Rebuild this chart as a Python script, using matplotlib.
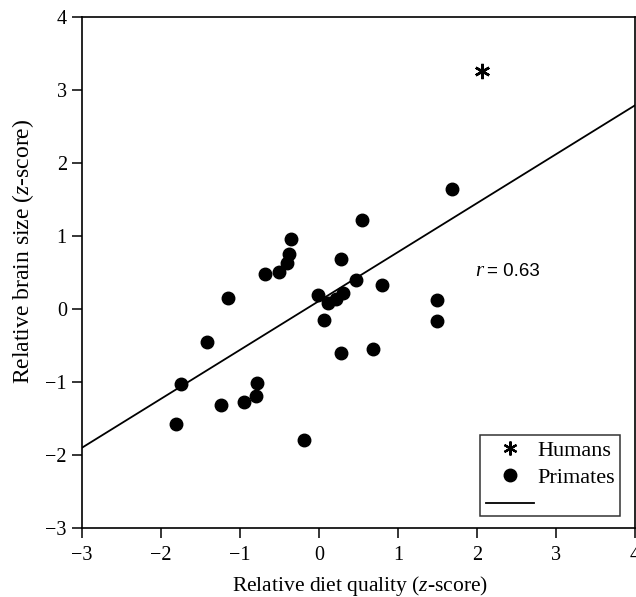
import matplotlib
matplotlib.use("Agg")
import matplotlib.pyplot as plt
from matplotlib.lines import Line2D

# Data
primate_x = [-1.81, -1.75, -1.42, -1.15, -1.24, -0.95, -0.80, -0.78, -0.68, -0.51,
             -0.41, -0.38, -0.35, -0.19, -0.01, 0.06, 0.11, 0.22, 0.28, 0.30,
             0.28, 0.47, 0.54, 0.68, 0.80, 1.49, 1.49, 1.68]
primate_y = [-1.58, -1.03, -0.45, 0.15, -1.31, -1.27, -1.19, -1.01, 0.48, 0.51,
             0.63, 0.75, 0.96, -1.79, 0.19, -0.15, 0.08, 0.14, 0.68, 0.22,
             -0.60, 0.40, 1.22, -0.55, 0.33, 0.12, -0.16, 1.65]
human_x = [2.06]
human_y = [3.26]
fit_x = [-3.0, 4.0]
fit_y = [-1.90, 2.79]
ticks = [-3, -2, -1, 0, 1, 2, 3, 4]
tick_labels = ["\u22123", "\u22122", "\u22121", "0", "1", "2", "3", "4"]

serif = ["Liberation Serif", "DejaVu Serif"]
plt.rcParams["font.family"] = serif
plt.rcParams["mathtext.fontset"] = "custom"
plt.rcParams["mathtext.rm"] = "Liberation Serif"
plt.rcParams["mathtext.it"] = "Liberation Serif:italic"

fig = plt.figure(figsize=(6.36, 5.97), dpi=100)
ax = fig.add_axes([0.129, 0.1156, 0.8695, 0.856])

ax.plot(fit_x, fit_y, color="black", lw=1.3, zorder=2)
ax.plot(primate_x, primate_y, linestyle="none", marker="o", ms=9,
        mfc="black", mec="black", zorder=3)
ax.plot(human_x, human_y, linestyle="none", marker=(6, 2, 0), ms=11,
        mec="black", mew=1.8, zorder=3)

ax.set_xlim(-3, 4)
ax.set_ylim(-3, 4)
ax.set_xticks(ticks)
ax.set_xticklabels(tick_labels, fontsize=14.5)
ax.set_yticks(ticks)
ax.set_yticklabels(tick_labels, fontsize=14.5)
ax.tick_params(direction="out", length=7, width=1.1)
ax.tick_params(axis="x", pad=6)
ax.tick_params(axis="y", pad=4)
for s in ax.spines.values():
    s.set_linewidth(1.2)

fig.text(0.566, 0.010, "Relative diet quality ($\\it{z}$-score)",
         ha="center", va="baseline", fontsize=15.5)
fig.text(0.036, 0.579, "Relative brain size ($\\it{z}$-score)",
         ha="center", va="center", rotation=90, fontsize=17)

ax.text(1.98, 0.51, "r", fontstyle="italic", fontsize=15, va="center", ha="left",
        family=serif)
ax.text(2.12, 0.51, "= 0.63", fontsize=13.5, va="center", ha="left",
        family=["Liberation Sans", "DejaVu Sans"])

handles = [
    Line2D([], [], linestyle="none", marker=(6, 2, 0), ms=10, mec="black", mew=1.6),
    Line2D([], [], linestyle="none", marker="o", ms=9, mfc="black", mec="black"),
    Line2D([], [], color="black", lw=1.3),
]
leg = ax.legend(handles, ["Humans", "Primates", ""], loc="lower right",
                bbox_to_anchor=(0.973, 0.0235), borderaxespad=0, fontsize=16,
                frameon=True, fancybox=False, handlelength=2.15, handletextpad=0.15,
                borderpad=0.25, labelspacing=0.3)
leg.get_texts()[2].set_fontsize(1)
leg.get_frame().set_edgecolor("black")
leg.get_frame().set_linewidth(1.1)

fig.savefig("out.png", dpi=100)
